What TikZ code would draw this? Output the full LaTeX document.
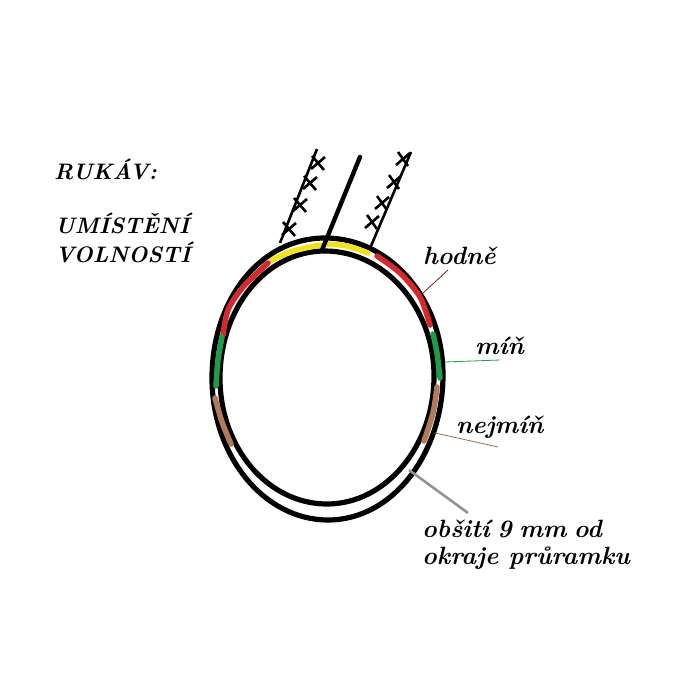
\documentclass[tikz,border=0pt]{standalone}
\usepackage{fontspec}
\newfontfamily\labelfont{Latin Modern Roman}
\definecolor{cyel}{HTML}{F2E21E}
\definecolor{cred}{HTML}{D42A2E}
\definecolor{cgrn}{HTML}{1F9C4A}
\definecolor{cbrn}{HTML}{B27A58}
\tikzset{
 txt/.style={anchor=west,inner sep=0pt,font=\labelfont\bfseries\itshape\fontsize{25}{28}\selectfont,text=black},
 captxt/.style={txt,font=\labelfont\bfseries\itshape\fontsize{22.4}{26}\selectfont},
 ring/.style={draw=black,line width=5.2pt},
 seg/.style={line width=5.5pt,line cap=round,line join=round},
 fold/.style={draw=black,line width=2.6pt},
 xmark/.style={draw=black,line width=2.6pt},
 lead/.style={line width=0.8pt}
}
\begin{document}
\begin{tikzpicture}[x=1pt,y=-1pt]
\useasboundingbox (0,0) rectangle (700,700);
% rings
\draw[ring] (325,238) .. controls (390,238) and (443,299) .. (443,375)
  .. controls (443,453) and (393,520) .. (328,520)
  .. controls (264,520) and (212,456) .. (212,378)
  .. controls (212,300) and (260,238) .. (325,238) -- cycle;
\draw[ring] (325,251) .. controls (384,251) and (434,307) .. (434,376)
  .. controls (434,446) and (386,504) .. (327,504)
  .. controls (268,504) and (220,448) .. (220,378)
  .. controls (220,308) and (266,251) .. (325,251) -- cycle;
% coloured parts
\draw[seg,cyel] plot[smooth] coordinates {(272,260)(293,251)(320,245)};
\draw[seg,cyel] plot[smooth] coordinates {(327,244)(347,246)(368,253)};
\draw[seg,cred] plot[smooth] coordinates {(268,263)(243,287)(228,310)(223,335)};
\draw[seg,cred] plot[smooth] coordinates {(377,256)(400,273)(420,297)(430,325)};
\draw[seg,cgrn] plot[smooth] coordinates {(222,337)(218,360)(216,386)};
\draw[seg,cgrn] plot[smooth] coordinates {(433,334)(437,353)(440,378)};
\draw[seg,cbrn] plot[smooth] coordinates {(215,398)(222,422)(231,444)};
\draw[seg,cbrn] plot[smooth] coordinates {(437,387)(433,413)(424,441)};
% fold lines
\coordinate (c1) at (360,157); \coordinate (c2) at (322,250);
\coordinate (l1) at (317,149); \coordinate (l2) at (280,243);
\coordinate (r1) at (411,152); \coordinate (r2) at (371,246);
\draw[black,line width=4.4pt,line cap=round] (c1) -- (c2);
\draw[fold] (l1) -- (l2);
\draw[fold] (r1) -- (r2);
% crosses, left
\foreach \x/\y in {318/163, 310/183, 300/205, 289/229}{
  \draw[xmark] (\x-6,\y-7) -- (\x+6,\y+7);
  \draw[xmark] (\x+7,\y-6) -- (\x-7,\y+6);
}
% crosses, right
\foreach \x/\y in {403/159, 394/182, 382/203, 372/222}{
  \draw[xmark] (\x-5,\y-7) -- (\x+5,\y+7);
  \draw[xmark] (\x+7,\y-6) -- (\x-7,\y+6);
}
% labels
\node[captxt] (ruk) at (54,169) {RUKÁV:};
\node[captxt] (umi) at (55,223) {UMÍSTĚNÍ};
\node[captxt] (vol) at (55,252) {VOLNOSTÍ};
\node[txt] (hod) at (423,256) {hodně};
\node[txt] (min) at (475,346) {míň};
\node[txt] (nej) at (456,427) {nejmíň};
\node[txt] (obs) at (422,529) {obšití\hspace{-3pt} 9\hspace{-3pt} mm\hspace{-3pt} od};
\node[txt] (okr) at (422,558) {okraje průramku};
% leaders
\coordinate (ah) at (423,293); \coordinate (bh) at (448,270);
\coordinate (am) at (445,362); \coordinate (bm) at (500,360);
\coordinate (an) at (435,433); \coordinate (bn) at (498,447);
\coordinate (ao) at (409,470); \coordinate (bo) at (468,513);
\draw[lead,color=cred!70!black] (ah) -- (bh);
\draw[lead,cgrn] (am) -- (bm);
\draw[lead,cbrn!85!black] (an) -- (bn);
\draw[draw=gray!85,line width=2.6pt] (ao) -- (bo);
\end{tikzpicture}
\end{document}
